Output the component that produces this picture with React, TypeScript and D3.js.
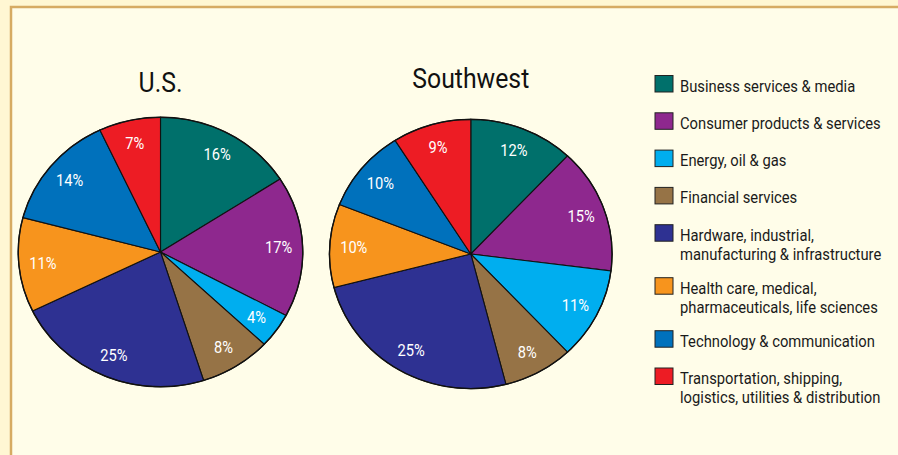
import React from "react";
import * as d3 from "d3";

const categories = [
  ["Business services & media"],
  ["Consumer products & services"],
  ["Energy, oil & gas"],
  ["Financial services"],
  ["Hardware, industrial,", "manufacturing & infrastructure"],
  ["Health care, medical,", "pharmaceuticals, life sciences"],
  ["Technology & communication"],
  ["Transportation, shipping,", "logistics, utilities & distribution"],
];
const colors = ["#00706b", "#8e288e", "#00aeef", "#967346", "#2e3192", "#f7941d", "#0071bc", "#ed1c24"];

// slice shares as drawn, and printed percentages
const usShares = [15.9, 16.9, 4.2, 8.1, 22.7, 11.3, 13.9, 7.0];
const usPercent = [16, 17, 4, 8, 25, 11, 14, 7];
const swShares = [12, 15, 11, 8, 25, 10, 10, 9];
const swPercent = [12, 15, 11, 8, 25, 10, 10, 9];

const FONT = "Roboto, 'Liberation Sans', Arial, sans-serif";

function T({ x, y, size, sx, anchor, fill, children, dy }: any) {
  return (
    <text transform={`translate(${x},${y}) scale(${sx},1)`} dy={dy} textAnchor={anchor} fontFamily={FONT} fontSize={size} fill={fill}>
      {children}
    </text>
  );
}

type PieProps = { title: string; shares: number[]; percents: number[]; cx: number; cy: number; rx: number; ry: number; titleY: number };

function Pie({ title, shares, percents, cx, cy, rx, ry, titleY }: PieProps) {
  const pie = d3.pie<number>().sort(null).value((d) => d)(shares);
  const arc = d3.arc<d3.PieArcDatum<number>>().innerRadius(0).outerRadius(ry);
  const labelArc = d3.arc<d3.PieArcDatum<number>>().innerRadius(ry * 0.83).outerRadius(ry * 0.83);
  const sx = rx / ry;
  return (
    <g>
      <T x={cx} y={titleY} size={28.5} sx={0.87} anchor="middle" fill="#111">{title}</T>
      <g transform={`translate(${cx},${cy}) scale(${sx},1)`}>
        {pie.map((p, i) => (
          <path key={i} d={arc(p) as string} fill={colors[i]} stroke="#111" strokeWidth={1.1} vectorEffect="non-scaling-stroke" />
        ))}
        <ellipse cx={0} cy={0} rx={ry} ry={ry} fill="none" stroke="#111" strokeWidth={1.4} vectorEffect="non-scaling-stroke" />
      </g>
      {pie.map((p, i) => {
        const [lx, ly] = labelArc.centroid(p);
        return (
          <T key={i} x={cx + lx * sx} y={cy + ly} dy="0.36em" size={16.5} sx={0.89} anchor="middle" fill="#fff">
            {percents[i]}%
          </T>
        );
      })}
    </g>
  );
}

export default function App() {
  const W = 898, H = 455;
  const legendX = 655;
  const legendY0 = 91.5;
  const gap = 37.3, extra = 15.7, lineH = 19.4;
  let extraLines = 0;
  return (
    <svg width={W} height={H} style={{ position: "absolute", left: 0, top: 0 }}>
      <rect x={0} y={0} width={W} height={H} fill="#fff7d3" />
      <rect x={11} y={7} width={W + 20} height={H + 20} fill="#fffde9" stroke="#d6ab63" strokeWidth={2.5} />
      <Pie title="U.S." shares={usShares} percents={usPercent} cx={160.5} cy={252} rx={142.3} ry={134.8} titleY={91.7} />
      <Pie title="Southwest" shares={swShares} percents={swPercent} cx={470.8} cy={254} rx={141.3} ry={134.6} titleY={88.3} />
      <g>
        {categories.map((lines, i) => {
          const y = legendY0 + i * gap + extraLines * extra;
          extraLines += lines.length - 1;
          return (
            <g key={i}>
              <rect x={legendX} y={y - 16} width={18} height={16.5} fill={colors[i]} stroke="#222" strokeWidth={1} />
              {lines.map((t, j) => (
                <T key={j} x={680} y={y + j * lineH} size={16.6} sx={0.89} anchor="start" fill="#1a1a1a">{t}</T>
              ))}
            </g>
          );
        })}
      </g>
    </svg>
  );
}
